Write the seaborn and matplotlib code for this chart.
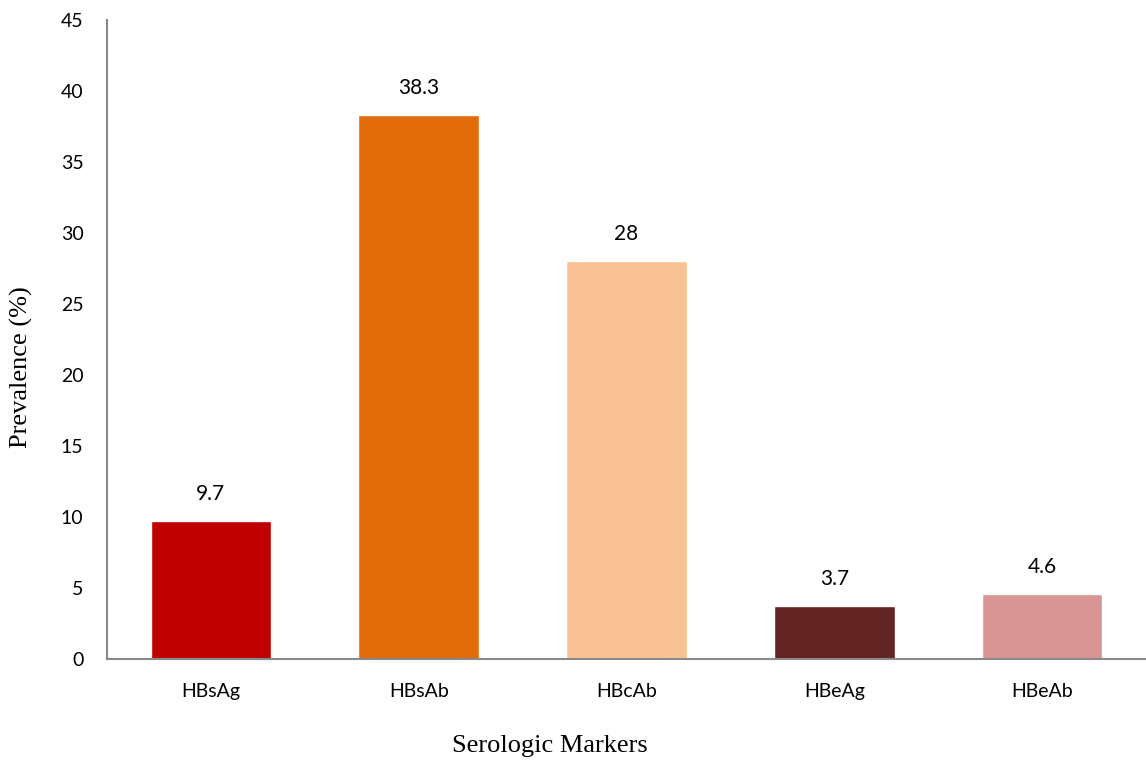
import matplotlib
matplotlib.use("Agg")
import matplotlib.pyplot as plt
import seaborn as sns
import pandas as pd

categories = ["HBsAg", "HBsAb", "HBcAb", "HBeAg", "HBeAb"]
values = [9.7, 38.3, 28, 3.7, 4.6]
value_labels = ["9.7", "38.3", "28", "3.7", "4.6"]
colors = ["#C00000", "#E36C0A", "#F8C194", "#632523", "#D99594"]
yticks = [0, 5, 10, 15, 20, 25, 30, 35, 40, 45]

sns.set_style("white")
plt.rcParams['font.family'] = ['Lato', 'DejaVu Sans']
plt.rcParams['text.color'] = 'black'
plt.rcParams['xtick.color'] = 'black'
plt.rcParams['ytick.color'] = 'black'

df = pd.DataFrame({"cat": categories, "val": values})
fig = plt.figure(figsize=(11.46, 7.61), dpi=100)
ax = fig.add_axes([0.0934, 0.134, 0.9066, 0.8397])
sns.barplot(data=df, x="cat", y="val", hue="cat", palette=colors, width=0.58,
            legend=False, ax=ax, saturation=1)
ax.set_xlim(-0.5, 4.5)
ax.set_ylim(0, 45)
ax.set_yticks(yticks)
ax.tick_params(axis="both", length=0, labelsize=14, labelcolor="black")
ax.tick_params(axis="y", pad=17)
ax.tick_params(axis="x", pad=17)
for s in ["top", "right"]:
    ax.spines[s].set_visible(False)
for s in ["left", "bottom"]:
    ax.spines[s].set_color("#898989")
    ax.spines[s].set_linewidth(1.5)
for i, (v, t) in enumerate(zip(values, value_labels)):
    ax.text(i, v + 1.2, t, ha="center", va="bottom", fontsize=15, color="black")
ax.set_xlabel("")
ax.set_ylabel("")
fig.text(550 / 1146, 1 - 746 / 761, "Serologic Markers", family="Liberation Serif",
         fontsize=19, ha="center", va="center", color="black")
fig.text(21 / 1146, 1 - 367 / 761, "Prevalence (%)", family="Liberation Serif",
         fontsize=19, ha="center", va="center", rotation=90, color="black")
fig.savefig("out.png", dpi=100)
